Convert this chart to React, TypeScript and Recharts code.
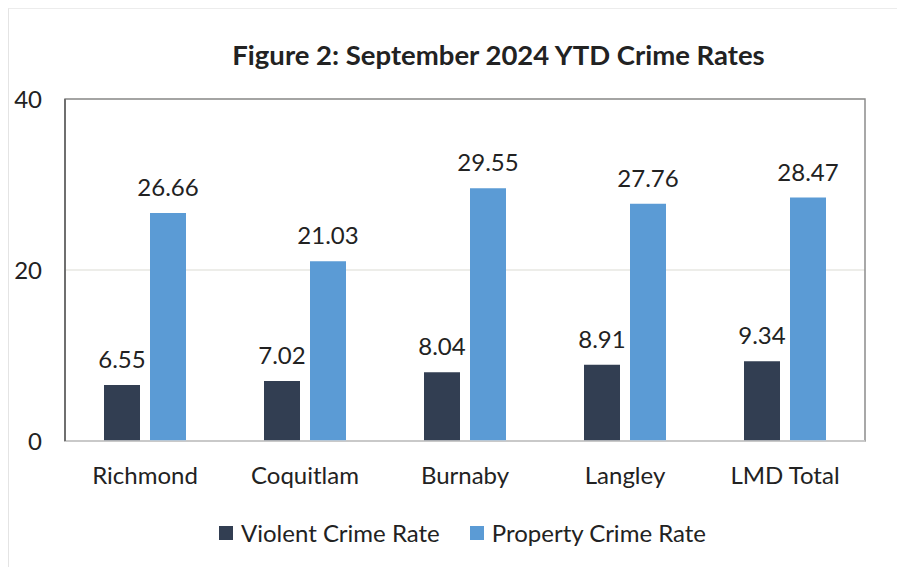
import { BarChart, Bar, CartesianGrid, XAxis, YAxis, LabelList, ReferenceArea, ReferenceLine } from "recharts";

const areas = ["Richmond", "Coquitlam", "Burnaby", "Langley", "LMD Total"];
const violentRates = [6.55, 7.02, 8.04, 8.91, 9.34];
const propertyRates = [26.66, 21.03, 29.55, 27.76, 28.47];
const yTicks = [0, 20, 40];

const series = [
  { key: "violent", name: "Violent Crime Rate", color: "#323e52" },
  { key: "property", name: "Property Crime Rate", color: "#5b9bd5" },
];

const rows = areas.map((area, i) => ({
  area,
  violent: violentRates[i],
  property: propertyRates[i],
}));

const font = "Lato, 'Open Sans', sans-serif";
const textSize = 24;

export default function App() {
  return (
    <div style={{ position: "absolute", left: 0, top: 0, width: 897, height: 567, background: "#fff", fontFamily: font }}>
      <div
        style={{
          position: "absolute",
          left: 8,
          top: 8,
          width: 900,
          height: 600,
          borderLeft: "1px solid #e4e4e4",
          borderTop: "1px solid #ececec",
        }}
      />
      <div
        style={{
          position: "absolute",
          left: 0,
          width: 897,
          top: 38,
          textAlign: "center",
          paddingLeft: 100,
          boxSizing: "border-box",
          fontSize: 27.5,
          fontWeight: 700,
          color: "#222",
        }}
      >
        Figure 2: September 2024 YTD Crime Rates
      </div>
      <BarChart
        width={897}
        height={567}
        data={rows}
        margin={{ top: 99, right: 32, left: 0, bottom: 56 }}
        barGap={10}
        barSize={36}
        style={{ position: "absolute", left: 0, top: 0 }}
      >
        <ReferenceArea y1={0} y2={40} fill="none" stroke="#8c8c8c" strokeWidth={1.5} ifOverflow="visible" />
        <CartesianGrid horizontal vertical={false} stroke="#dcdcd4" strokeWidth={1.2} />
        <ReferenceLine y={0} stroke="#d6d6d6" strokeWidth={1.5} />
        <XAxis
          dataKey="area"
          axisLine={false}
          tickLine={false}
          tickSize={0}
          tickMargin={26}
          height={70}
          tick={{ fill: "#222", fontSize: textSize, fontFamily: font }}
        />
        <YAxis
          domain={[0, 40]}
          ticks={yTicks}
          width={65}
          tickSize={0}
          tickMargin={23}
          tickLine={false}
          axisLine={{ stroke: "#6f6f6f", strokeWidth: 2 }}
          tick={{ fill: "#222", fontSize: textSize, fontFamily: font }}
        />
        {series.map((s) => (
          <Bar key={s.key} dataKey={s.key} name={s.name} fill={s.color} isAnimationActive={false}>
            <LabelList dataKey={s.key} position="top" offset={17} fill="#222" fontSize={textSize} fontFamily={font} />
          </Bar>
        ))}
      </BarChart>
      <div
        style={{
          position: "absolute",
          left: 0,
          width: 897,
          top: 517,
          display: "flex",
          justifyContent: "center",
          paddingLeft: 28,
          boxSizing: "border-box",
          gap: 30,
          fontSize: textSize,
          lineHeight: "32px",
          color: "#222",
        }}
      >
        {series.map((s) => (
          <div key={s.key} style={{ display: "flex", alignItems: "center" }}>
            <span style={{ width: 14, height: 14, background: s.color, marginRight: 8, display: "inline-block" }} />
            <span>{s.name}</span>
          </div>
        ))}
      </div>
    </div>
  );
}
